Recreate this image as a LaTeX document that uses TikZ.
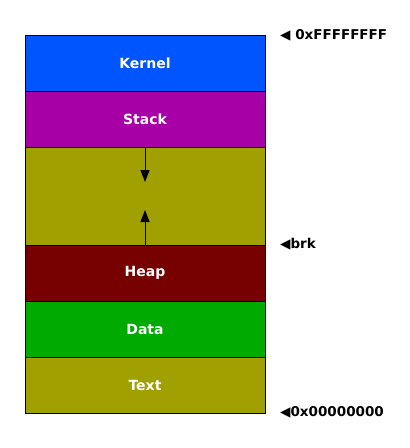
\documentclass[tikz,border=0pt]{standalone}
\usepackage{fontspec}
\setmainfont{DejaVu Sans}
\usetikzlibrary{arrows.meta}
\definecolor{kblue}{HTML}{0055FF}
\definecolor{spurple}{HTML}{A600A6}
\definecolor{olivec}{HTML}{A0A000}
\definecolor{heapc}{HTML}{770000}
\definecolor{datac}{HTML}{00AA00}
\tikzset{
  seg/.style={draw=black, line width=1pt, minimum width=240pt, inner sep=0pt, outer sep=0pt,
    text=white, font=\fontsize{14}{16}\selectfont\bfseries},
  addr/.style={anchor=west, inner sep=0pt, font=\fontsize{13.5}{16}\selectfont\bfseries},
  growarrow/.style={-{Triangle[length=12pt,width=9pt]}, line width=1pt}
}
\begin{document}
\begin{tikzpicture}[x=1pt,y=-1pt]
\useasboundingbox[fill=white] (0,0) rectangle (410,448);
\node[seg, fill=kblue, minimum height=56pt] (kernel) at (145,63) {Kernel};
\node[seg, fill=spurple, minimum height=56pt] (stack) at (145,119) {Stack};
\node[seg, fill=olivec, minimum height=98pt] (gap) at (145,196) {};
\node[seg, fill=heapc, minimum height=56pt] (heap) at (145,273) {Heap};
\node[seg, fill=datac, minimum height=56pt] (data) at (145,329) {Data};
\node[seg, fill=olivec, minimum height=56pt] (text) at (145,385) {Text};
\coordinate (downtip) at (145,182);
\coordinate (uptip) at (145,210);
\draw[growarrow] (gap.north) -- (downtip);
\draw[growarrow] (gap.south) -- (uptip);
\node[addr] (top) at (280,35) {\char"25C0\ 0xFFFFFFFF};
\node[addr] (brk) at (280,244) {\char"25C0brk};
\node[addr] (bot) at (280,412) {\char"25C0 0x00000000};
\end{tikzpicture}
\end{document}
